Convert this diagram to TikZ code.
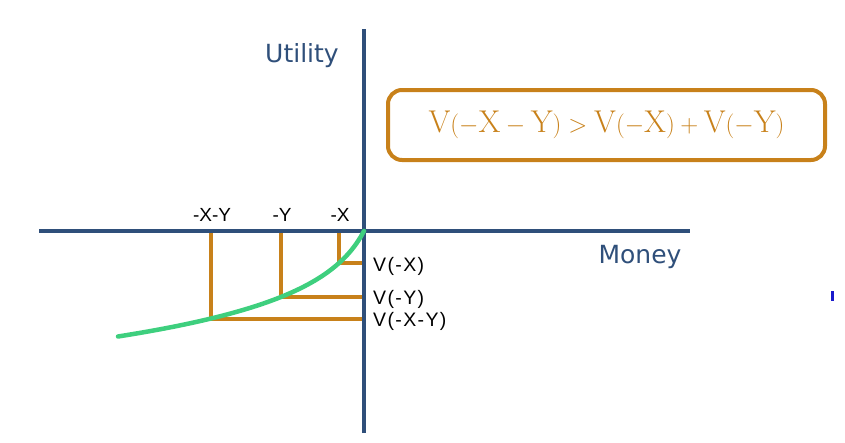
\documentclass[tikz,border=0pt]{standalone}
\usepackage{amsmath}
\usepackage{fontspec}
\newfontfamily\axisfont{DejaVu Sans}
\newfontfamily\tickfont{Liberation Sans}
\newfontfamily\valuefont[LetterSpace=7]{Liberation Sans}
\definecolor{axisblue}{HTML}{2F4F7A}
\definecolor{lossorange}{HTML}{C8811A}
\definecolor{valuegreen}{HTML}{3ECF7E}
\definecolor{cursorblue}{HTML}{1A1ACC}
\tikzset{
  axisline/.style={axisblue,line width=3.5pt},
  axistext/.style={axisblue,font=\axisfont\fontsize{25}{28}\selectfont,anchor=base,inner sep=0pt},
  drop/.style={lossorange,line width=4pt},
  ticktext/.style={font=\tickfont\fontsize{19}{22}\selectfont,inner sep=0pt,anchor=base},
  valuetext/.style={font=\valuefont\fontsize{19.5}{22}\selectfont,inner sep=0pt,anchor=base west},
  curve/.style={valuegreen,line width=4.5pt,line cap=round},
  formulabox/.style={draw=lossorange,line width=4pt,rounded corners=14pt,minimum width=437pt,
    minimum height=70pt,text=lossorange,font=\fontsize{31.5}{34}\selectfont}
}

\begin{document}
\begin{tikzpicture}[x=1pt,y=-1pt]
  \useasboundingbox (0,0) rectangle (845,442);
  % the axes
  \coordinate (O) at (364,231);
  \coordinate (left) at (39,231);
  \coordinate (right) at (690,231);
  \coordinate (top) at (364,29);
  \coordinate (bottom) at (364,433);
  % points on the curve and their drops to both axes
  \foreach \p/\x/\lx/\lv in {a/339/-X/V(-X), b/281/-Y/V(-Y), c/211/-X-Y/V(-X-Y)} {
    \pgfmathsetmacro\y{231+42.2*ln(1+(364-\x)/22)}
    \coordinate (\p) at (\x,\y);
    \coordinate (\p x) at (\x,231);
    \coordinate (\p y) at (364,\y);
    \node[ticktext] (\p lx) at (\x+1,221.7) {\lx};
    \node[valuetext] (\p lv) at (373,\y+8) {\lv};
    \draw[drop] (\p x) -- (\p) -- (\p y);
  }
  \draw[axisline] (left) -- (right);
  \draw[axisline] (bottom) -- (top);
  \node[axistext] (utility) at (302,62) {Utility};
  \node[axistext] (money) at (640,263) {Money};
  % value function
  \draw[curve,domain=246:0,samples=80] plot ({364-\x},{231+42.2*ln(1+\x/22)});
  \node[formulabox] (formula) at (606.5,125)
    {$\mathrm{V}(-\mathrm{X}-\mathrm{Y})>\mathrm{V}(-\mathrm{X})+\mathrm{V}(-\mathrm{Y})$};
  \fill[cursorblue] (831,291) rectangle (833.5,301);
\end{tikzpicture}
\end{document}
